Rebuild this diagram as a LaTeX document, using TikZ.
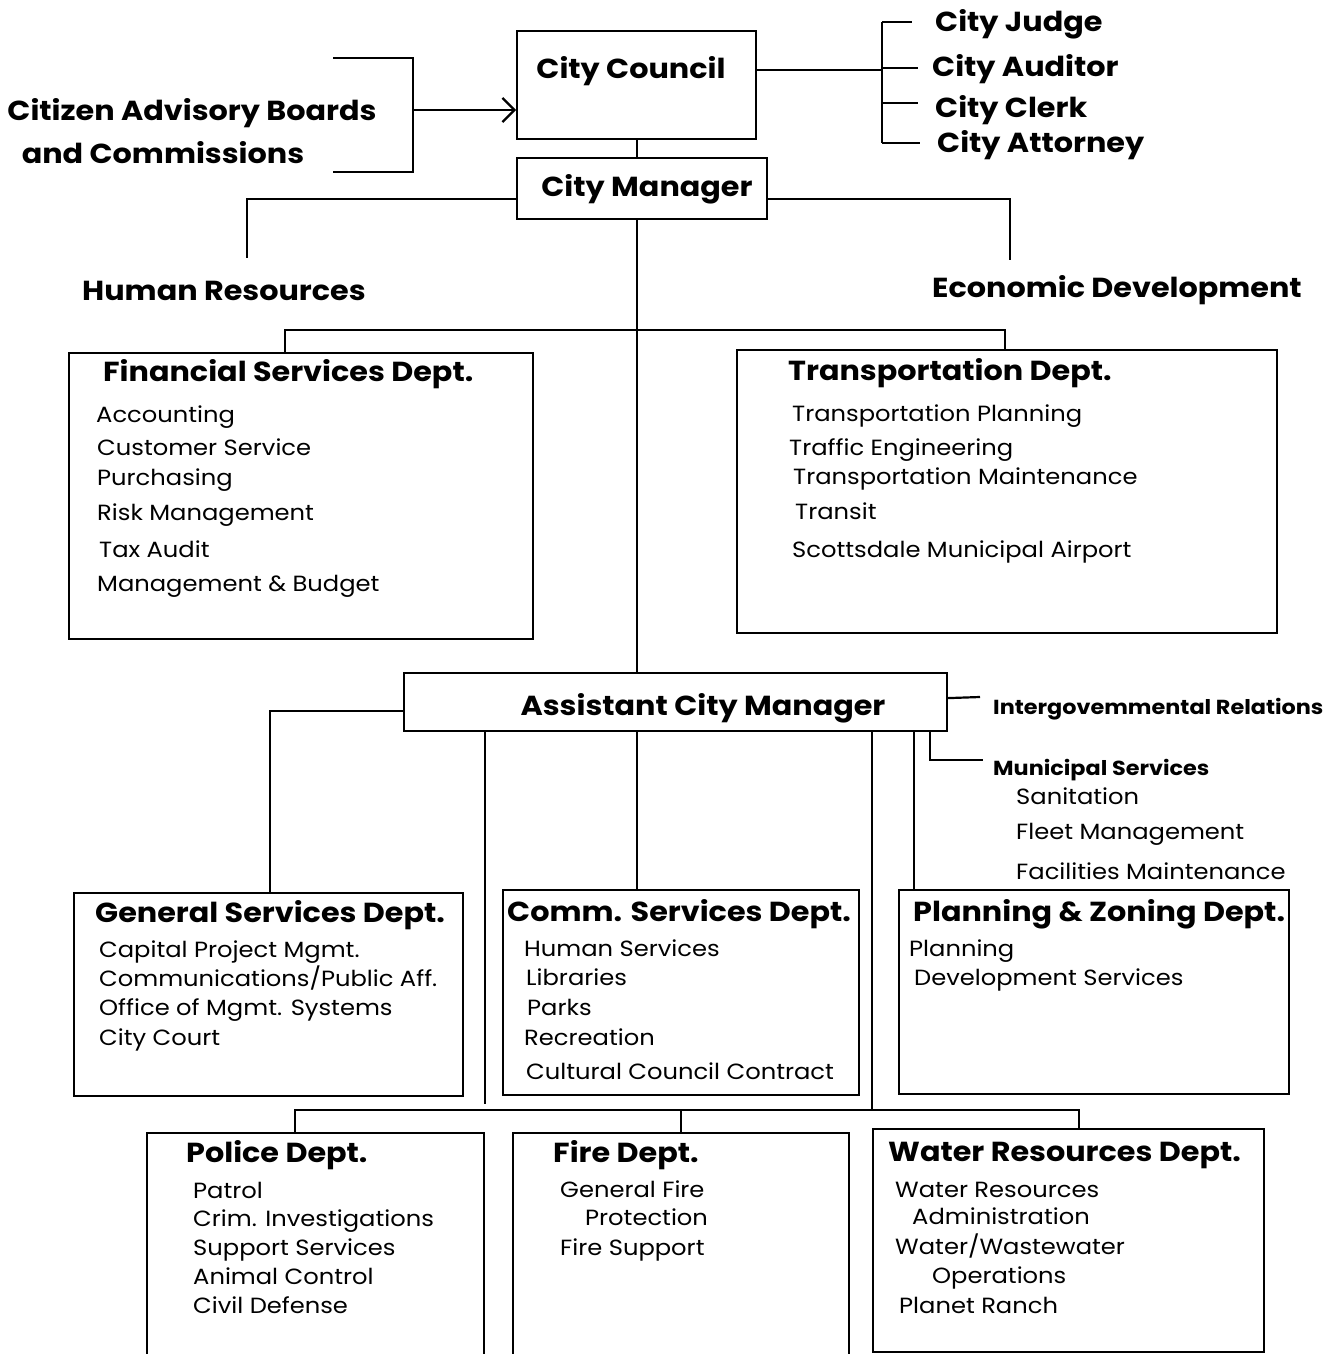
\documentclass[tikz,border=0pt]{standalone}
\usepackage{fontspec}
\setmainfont[FakeStretch=1.1]{Poppins}
\usetikzlibrary{arrows.meta}
\begin{document}
\begin{tikzpicture}[x=1pt,y=-1pt,
	box/.style={draw,line width=2.2pt,inner sep=0pt,anchor=north west},
	conn/.style={line width=2.2pt},
	big/.style={font=\bfseries\fontsize{27.5}{30}\selectfont,inner sep=0pt,yshift=-3pt},
	head/.style={font=\bfseries\fontsize{27.5}{30}\selectfont,inner sep=0pt,anchor=mid west,yshift=-6pt},
	small/.style={font=\bfseries\fontsize{20.3}{24}\selectfont,inner sep=0pt,anchor=mid west,yshift=-5pt},
	item/.style={font=\fontsize{22}{24}\selectfont,inner sep=0pt,anchor=mid west,yshift=-5pt}]
	\useasboundingbox (0,0) rectangle (1332,1354);
	\clip (0,0) rectangle (1332,1354);
	% boxes
	\node[box,minimum width=239,minimum height=108] (cc) at (516,30) {};
	\node[box,minimum width=250,minimum height=61] (cm) at (516,157) {};
	\node[box,minimum width=464,minimum height=286] (fin) at (68,352) {};
	\node[box,minimum width=540,minimum height=283] (tr) at (736,349) {};
	\node[box,minimum width=543,minimum height=58] (acm) at (403,672) {};
	\node[box,minimum width=389,minimum height=203] (gen) at (73,892) {};
	\node[box,minimum width=356,minimum height=205] (com) at (502,889) {};
	\node[box,minimum width=390,minimum height=204] (pz) at (898,889) {};
	\node[box,minimum width=337,minimum height=260] (pol) at (146,1132) {};
	\node[box,minimum width=336,minimum height=260] (fire) at (512,1132) {};
	\node[box,minimum width=391,minimum height=223] (wat) at (872,1128) {};
	% top
	\node[big] (cab1) at (192,110) {Citizen Advisory Boards};
	\node[big] (cab2) at (163,150) {and Commissions};
	\node[big] (cct) at (631,68) {City Council};
	\node[big] (cmt) at (647,186) {City Manager};
	\node[head] (judge) at (935,23) {City Judge};
	\node[head] (aud) at (932,68) {City Auditor};
	\node[head] (clerk) at (935,109) {City Clerk};
	\node[head] (atty) at (937,144) {City Attorney};
	\node[big] (hr) at (224,288) {Human Resources};
	\node[big] (ed) at (1117,287) {Economic Development};
	\node[big] (acmt) at (703,705) {Assistant City Manager};
	\node[small] (igr) at (993,707) {Intergovemmental Relations};
	\node[small] (muni) at (993,768) {Municipal Services};
	\foreach \x/\y/\t [count=\i] in {1016/797/Sanitation,1016/832/Fleet Management,1016/872/Facilities Maintenance}
		\node[item] (muni-\i) at (\x,\y) {\t};
	% departments
	\node[head] (fint) at (103,373) {Financial Services Dept.};
	\foreach \x/\y/\t [count=\i] in {96/415/Accounting,97/448/Customer Service,97/478/Purchasing,97/513/Risk Management,99/550/Tax Audit,97/584/Management \& Budget}
		\node[item] (fin-\i) at (\x,\y) {\t};
	\node[head] (trt) at (788,372) {Transportation Dept.};
	\foreach \x/\y/\t [count=\i] in {792/414/Transportation Planning,789/448/Traffic Engineering,793/477/Transportation Maintenance,795/512/Transit,792/550/Scottsdale Municipal Airport}
		\node[item] (tr-\i) at (\x,\y) {\t};
	\node[head] (gent) at (95,914) {General Services Dept.};
	\foreach \x/\y/\t [count=\i] in {99/950/Capital Project Mgmt.,99/979/{Communications/Public Aff.},99/1008/Office of Mgmt. Systems,99/1038/City Court}
		\node[item] (gen-\i) at (\x,\y) {\t};
	\node[head] (comt) at (507,913) {Comm. Services Dept.};
	\foreach \x/\y/\t [count=\i] in {524/949/Human Services,526/978/Libraries,527/1008/Parks,524/1038/Recreation,526/1072/Cultural Council Contract}
		\node[item] (com-\i) at (\x,\y) {\t};
	\node[head] (pzt) at (913,913) {Planning \& Zoning Dept.};
	\foreach \x/\y/\t [count=\i] in {909/949/Planning,914/978/Development Services}
		\node[item] (pz-\i) at (\x,\y) {\t};
	\node[head] (polt) at (186,1154) {Police Dept.};
	\foreach \x/\y/\t [count=\i] in {193/1191/Patrol,193/1219/Crim. Investigations,193/1248/Support Services,193/1277/Animal Control,193/1306/Civil Defense}
		\node[item] (pol-\i) at (\x,\y) {\t};
	\node[head] (firet) at (553,1154) {Fire Dept.};
	\foreach \x/\y/\t [count=\i] in {560/1190/General Fire,585/1218/Protection,560/1248/Fire Support}
		\node[item] (fire-\i) at (\x,\y) {\t};
	\node[head] (watt) at (888,1153) {Water Resources Dept.};
	\foreach \x/\y/\t [count=\i] in {895/1190/Water Resources,912/1217/Administration,895/1247/{Water/Wastewater},932/1276/Operations,899/1306/Planet Ranch}
		\node[item] (wat-\i) at (\x,\y) {\t};
	% connectors
	\coordinate (brk) at (413,110);
	\draw[conn] (333,58) -| (brk) |- (333,172);
	\draw[conn,-{Straight Barb[length=12pt,width=24pt]}] (brk) -- (cc.west |- brk);
	\coordinate (rbr) at (882,70);
	\draw[conn] (cc.east |- rbr) -- (rbr);
	\draw[conn] (882,22) -- (882,143);
	\foreach \y/\l in {22/30,68/36,103/36,143/38}
		\draw[conn] (rbr |- 0,\y) -- ++(\l,0);
	\draw[conn] (cc.south) -- (cc.south |- cm.north);
	\coordinate (hrtop) at (247,258);
	\coordinate (edtop) at (1010,260);
	\draw[conn] ([yshift=-10pt]cm.west) -| (hrtop);
	\draw[conn] ([yshift=-10pt]cm.east) -| (edtop);
	\coordinate (spine) at (637,330);
	\draw[conn] (cm.south -| spine) -- (spine |- acm.north);
	\draw[conn] (285,352) |- (spine) -| (1005,349);
	\draw[conn] ([yshift=-9pt]acm.west) -| (270,892);
	\draw[conn] ([yshift=4pt]acm.east) -- (980,697);
	\coordinate (msv) at (930,760);
	\draw[conn] (acm.south -| msv) -- (msv) -- (983,760);
	\draw[conn] (acm.south -| 914,0) -- (914,889);
	\draw[conn] (acm.south -| spine) -- (spine |- com.north);
	\coordinate (bl) at (295,1110);
	\coordinate (br) at (1079,1110);
	\coordinate (bj) at (872,1110);
	\coordinate (bd) at (485,1104);
	\draw[conn] (acm.south -| bj) -- (bj);
	\draw[conn] (acm.south -| bd) -- (bd);
	\draw[conn] (bl |- pol.north) -- (bl) -- (br) -- (br |- wat.north);
	\draw[conn] (fire.north) -- (fire.north |- bl);
\end{tikzpicture}
\end{document}
